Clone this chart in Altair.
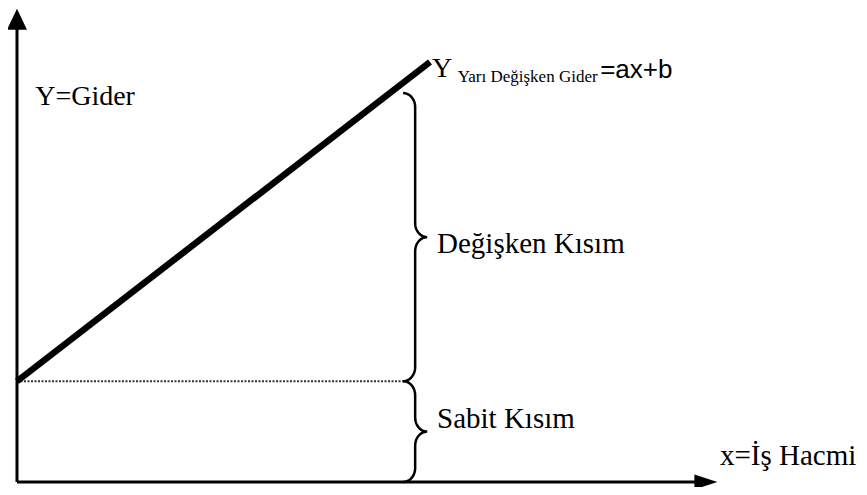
import numpy as np
import pandas as pd
import altair as alt

# ---- data (diagram values, in arbitrary units) ----
volume = [0, 100]                 # İş Hacmi (x)
fixed_cost = 24                   # b
total_cost = [24, 100]            # Y = ax + b at the two ends
brace_top = 92.6                  # top of the "Değişken Kısım" brace
brace_x = 93.5                    # where the braces start
x_axis_end = 166.8
y_axis_end = 110.2

labels_main = ["Y=Gider", "Y", "Değişken Kısım", "Sabit Kısım", "x=İş Hacmi"]
label_sub = "Yarı Değişken Gider"
label_eq = "=ax+b"

SERIF = "Liberation Serif, Times New Roman, serif"
SANS = "Liberation Sans, Arial, sans-serif"

# ---- layout helpers (pixel per unit, to place view exactly) ----
W, H = 851, 479
KX, KY = 4.13, 4.2
X0_PX, Y0_PX = 9, 474             # view pixel of data origin
XDOM = [(0 - X0_PX) / KX, (W - X0_PX) / KX]
YDOM = [(Y0_PX - H) / KY, Y0_PX / KY]

xs = alt.Scale(domain=XDOM, nice=False, zero=False)
ys = alt.Scale(domain=YDOM, nice=False, zero=False)


def X(f="x"):
    return alt.X(f"{f}:Q", scale=xs, axis=None)


def Y(f="y"):
    return alt.Y(f"{f}:Q", scale=ys, axis=None)


def brace_pts(x0, y_lo, y_hi, name, w=12, r=14):
    wx, ry = w / KX, r / KY
    mid = (y_lo + y_hi) / 2
    th = np.linspace(0, np.pi / 2, 12)
    px, py = [], []
    px += list(x0 + wx * np.sin(th)); py += list(y_hi - ry + ry * np.cos(th))
    px += list(x0 + 2 * wx - wx * np.cos(th)); py += list(mid + ry - ry * np.sin(th))
    px += list(x0 + 2 * wx - wx * np.sin(th)); py += list(mid - ry + ry * np.cos(th))
    px += list(x0 + wx * np.cos(th)); py += list(y_lo + ry - ry * np.sin(th))
    return pd.DataFrame({"x": px, "y": py, "i": range(len(px)), "b": name})


braces = pd.concat([
    brace_pts(brace_x, fixed_cost, brace_top, "var"),
    brace_pts(brace_x, 0, fixed_cost, "fix"),
])

# axes
axes_df = pd.DataFrame({
    "x": [0, 0], "y": [0, 0],
    "x2": [x_axis_end, 0], "y2": [0, y_axis_end],
})
axes = alt.Chart(axes_df).mark_rule(color="black", strokeWidth=3).encode(
    x=X(), y=Y(), x2="x2:Q", y2="y2:Q")

up = alt.Chart(pd.DataFrame({"x": [0], "y": [y_axis_end]})).mark_point(
    shape="M 0 -1 L -0.95 1 L 0.95 1 Z", filled=True, color="black",
    opacity=1, size=441).encode(x=X(), y=Y())
right = alt.Chart(pd.DataFrame({"x": [x_axis_end], "y": [0]})).mark_point(
    shape="M 1 0 L -1 -0.65 L -1 0.65 Z", filled=True, color="black",
    opacity=1, size=529).encode(x=X(), y=Y())

# fixed cost dotted line
dotted = alt.Chart(pd.DataFrame({"x": [0], "x2": [brace_x], "y": [fixed_cost]})).mark_rule(
    color="#333333", strokeWidth=2, strokeDash=[2, 1.5]).encode(x=X(), x2="x2:Q", y=Y())

# cost line
line = alt.Chart(pd.DataFrame({"x": volume, "y": total_cost})).mark_line(
    color="black", strokeWidth=6.5).encode(x=X(), y=Y())

brace = alt.Chart(braces).mark_line(color="black", strokeWidth=2.5).encode(
    x=X(), y=Y(), order="i:Q", detail="b:N")

mid_var = (fixed_cost + brace_top) / 2
lab_df = pd.DataFrame({
    "label": labels_main,
    "x": [4.4, volume[1] + 0.5, brace_x + 8.2, brace_x + 8.2, 170.2],
    "y": [89.7, total_cost[1] - 3.6, mid_var - 3.8, 12.8, 4.0],
    "fs": [28, 28, 29, 29, 29],
})
labels = alt.Chart(lab_df).mark_text(
    align="left", baseline="alphabetic", font=SERIF, color="black").encode(
    x=X(), y=Y(), text="label:N", size=alt.Size("fs:Q", scale=None, legend=None))

sub = alt.Chart(pd.DataFrame({"label": [label_sub], "x": [106.7], "y": [95.3]})).mark_text(
    align="left", baseline="alphabetic", font=SERIF,
    fontSize=17, color="black").encode(x=X(), y=Y(), text="label:N")

eq = alt.Chart(pd.DataFrame({"label": [label_eq], "x": [141.2], "y": [96.2]})).mark_text(
    align="left", baseline="alphabetic", font=SANS,
    fontSize=26, color="black").encode(x=X(), y=Y(), text="label:N")

chart = alt.layer(axes, dotted, line, brace, up, right, labels, sub, eq).properties(
    width=W, height=H, padding=0,
    autosize=alt.AutoSizeParams(type="none"),
).configure(background="white", view=alt.ViewConfig(stroke=None))

chart.save("out.html", embed_options={"renderer": "svg", "actions": False})
